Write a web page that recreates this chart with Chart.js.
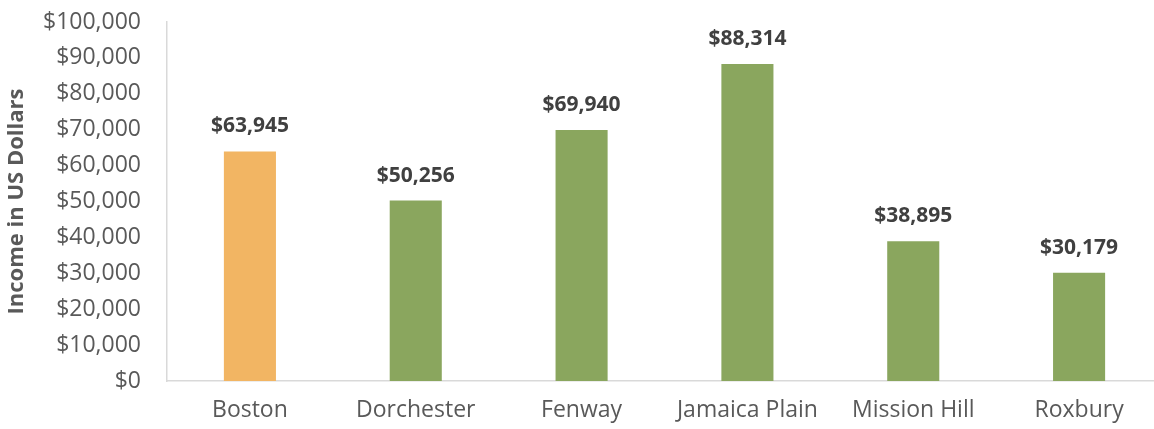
<!DOCTYPE html>
<html>
<head>
<meta charset="utf-8">
<script src="https://cdn.jsdelivr.net/npm/chart.js@4/dist/chart.umd.min.js"></script>
<style>
  html, body { margin: 0; padding: 0; background: #fff; overflow: hidden; }
  #wrap { position: relative; width: 1162px; height: 429px; }
</style>
</head>
<body>
<div id="wrap"><canvas id="c"></canvas></div>
<script>
const categories = ['Boston', 'Dorchester', 'Fenway', 'Jamaica Plain', 'Mission Hill', 'Roxbury'];
const incomes = [63945, 50256, 69940, 88314, 38895, 30179];
const barColors = ['#F2B563', '#8AA65E', '#8AA65E', '#8AA65E', '#8AA65E', '#8AA65E'];
const yTitle = 'Income in US Dollars';

const FONT = "'Open Sans', 'Liberation Sans', sans-serif";
const fmt = v => '$' + v.toLocaleString('en-US');

const valueLabels = {
  id: 'valueLabels',
  afterDatasetsDraw(chart) {
    const ctx = chart.ctx;
    const meta = chart.getDatasetMeta(0);
    ctx.save();
    ctx.font = "bold 21px " + FONT;
    ctx.fillStyle = '#404040';
    ctx.textAlign = 'center';
    ctx.textBaseline = 'middle';
    meta.data.forEach((bar, i) => {
      ctx.fillText(fmt(incomes[i]), bar.x, bar.y - 25);
    });
    ctx.restore();
  }
};

new Chart(document.getElementById('c'), {
  type: 'bar',
  data: {
    labels: categories,
    datasets: [{
      data: incomes,
      backgroundColor: barColors,
      borderWidth: 0,
      barPercentage: 0.314,
      categoryPercentage: 1.0
    }]
  },
  options: {
    responsive: true,
    maintainAspectRatio: false,
    animation: false,
    layout: { padding: { top: 22, right: 0, bottom: 0, left: 0 } },
    plugins: {
      legend: { display: false },
      tooltip: { enabled: false }
    },
    scales: {
      x: {
        grid: { display: false, drawTicks: false },
        border: { display: true, color: '#D9D9D9', width: 1.5 },
        ticks: { color: '#595959', font: { family: FONT, size: 23 }, padding: 16, maxRotation: 0 },
        afterFit(scale) { scale.height = 48; scale.paddingLeft = 0; scale.paddingRight = 0; }
      },
      y: {
        min: 0,
        max: 100000,
        grid: { display: false, drawTicks: false },
        border: { display: true, color: '#D9D9D9', width: 1.5 },
        ticks: {
          stepSize: 10000,
          color: '#595959',
          font: { family: FONT, size: 23 },
          padding: 26,
          callback: v => fmt(v)
        },
        title: {
          display: true,
          text: yTitle,
          color: '#595959',
          font: { family: FONT, size: 22, weight: 'bold' },
          padding: { top: 4, bottom: 0 }
        },
        afterFit(scale) { scale.width = 167; scale.paddingTop = 0; scale.paddingBottom = 0; }
      }
    }
  },
  plugins: [valueLabels]
});
</script>
</body>
</html>
